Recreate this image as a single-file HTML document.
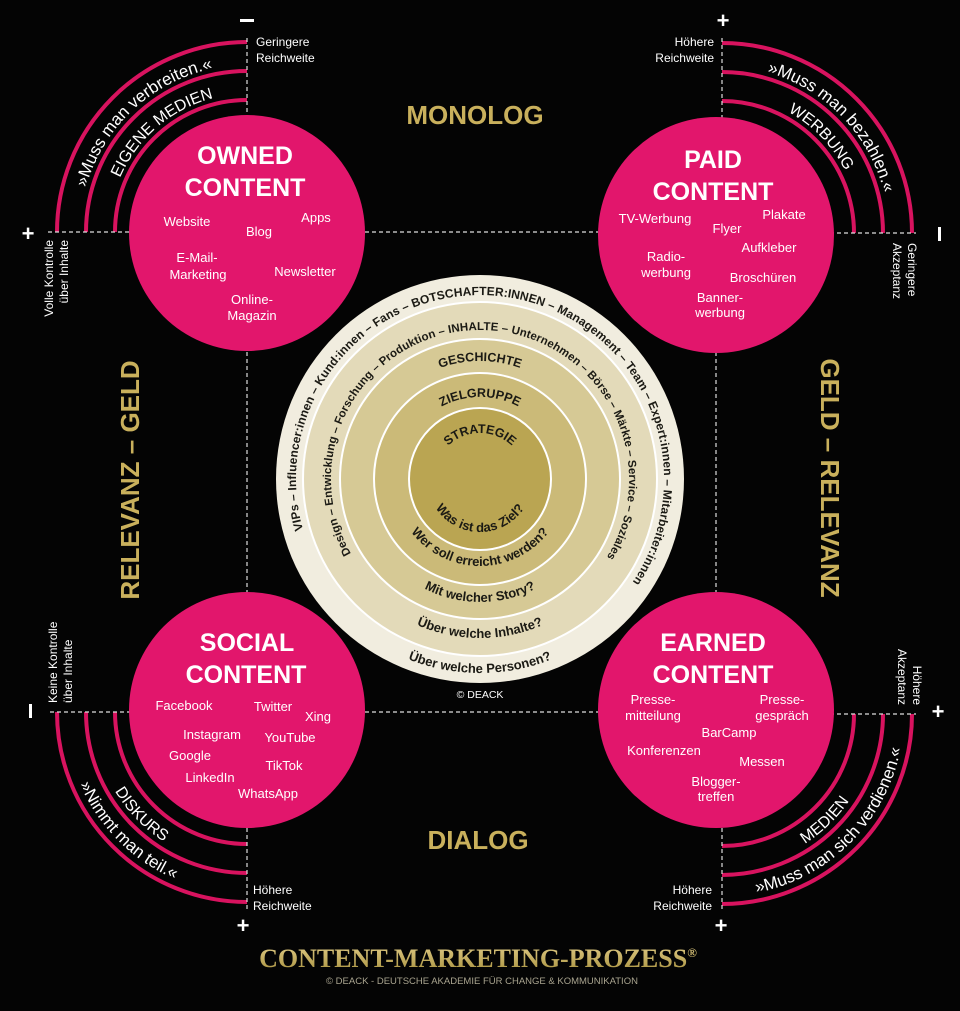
<!DOCTYPE html>
<html><head><meta charset="utf-8"><style>
html,body{margin:0;padding:0;background:#040404;}
svg{display:block;font-family:"Liberation Sans",sans-serif;}
.w{fill:#fff;font-size:13px;text-anchor:middle;}
.h{fill:#fff;font-size:25px;font-weight:bold;text-anchor:middle;}
.lb{fill:#fff;font-size:12px;}
.ct{fill:#1b1a14;font-weight:bold;}
.arc{fill:none;stroke:#d8135f;stroke-width:4;}
.ds{stroke:#ddd;stroke-width:1.2;stroke-dasharray:4 3;fill:none;}
.gold{fill:#c9b05c;font-weight:bold;font-size:26px;text-anchor:middle;}
.ctext{fill:#fff;font-size:17px;}
</style></head><body>
<svg width="960" height="1011" viewBox="0 0 960 1011" xmlns="http://www.w3.org/2000/svg">
<defs>
<path id="p1" d="M303.1,529.7 A184,184 0 1 1 628.9,587.2"/>
<path id="p2" d="M351,553.5 A149,149 0 1 1 602.8,563.4"/>
<path id="t1" d="M434,479 A46,46 0 0 1 526,479"/>
<path id="t2" d="M398,479 A82,82 0 0 1 562,479"/>
<path id="t3" d="M362,479 A118,118 0 0 1 598,479"/>
<path id="b1" d="M427,479 A53,53 0 0 0 533,479"/>
<path id="b2" d="M393,479 A87,87 0 0 0 567,479"/>
<path id="b3" d="M357,479 A123,123 0 0 0 603,479"/>
<path id="b4" d="M321,479 A159,159 0 0 0 639,479"/>
<path id="b5" d="M286,479 A194,194 0 0 0 674,479"/>
<path id="o1" d="M80,232 A167,167 0 0 1 247,65"/>
<path id="o2" d="M109,232 A138,138 0 0 1 247,94"/>
<path id="q1" d="M722,66 A167,167 0 0 1 889,233"/>
<path id="q2" d="M722,95 A138,138 0 0 1 860,233"/>
<path id="s1" d="M65,712 A182,182 0 0 0 247,894"/>
<path id="s2" d="M93,712 A154,154 0 0 0 247,866"/>
<path id="e1" d="M722,896 A182,182 0 0 0 904,714"/>
<path id="e2" d="M722,868 A154,154 0 0 0 876,714"/>
<linearGradient id="gg" x1="0" y1="0" x2="0" y2="1"><stop offset="0" stop-color="#e0cc86"/><stop offset="1" stop-color="#a8903e"/></linearGradient>
</defs>

<path class="ds" d="M365,232 H598 M365,712 H598 M247,352 V592 M716,352 V592"/>

<path class="arc" d="M57,232 A190,190 0 0 1 247,42 M86,232 A161,161 0 0 1 247,71 M115,232 A132,132 0 0 1 247,100"/>
<path class="arc" d="M722,43 A190,190 0 0 1 912,233 M722,72 A161,161 0 0 1 883,233 M722,101 A132,132 0 0 1 854,233"/>
<path class="arc" d="M57,712 A190,190 0 0 0 247,902 M86,712 A161,161 0 0 0 247,873 M115,712 A132,132 0 0 0 247,844"/>
<path class="arc" d="M722,904 A190,190 0 0 0 912,714 M722,875 A161,161 0 0 0 883,714 M722,846 A132,132 0 0 0 854,714"/>
<path class="ds" d="M48,232 H132 M247,38 V118 M722,38 V118 M830,233 H916 M50,712 H132 M247,828 V912 M722,828 V912 M830,714 H916"/>

<text class="ctext"><textPath href="#o1" startOffset="52%" text-anchor="middle">»Muss man verbreiten.«</textPath></text>
<text class="ctext" style="font-size:16px"><textPath href="#o2" startOffset="55%" text-anchor="middle">EIGENE MEDIEN</textPath></text>
<text class="ctext"><textPath href="#q1" startOffset="51%" text-anchor="middle">»Muss man bezahlen.«</textPath></text>
<text class="ctext" style="font-size:16px"><textPath href="#q2" startOffset="51%" text-anchor="middle">WERBUNG</textPath></text>
<text class="ctext"><textPath href="#s1" startOffset="50%" text-anchor="middle">»Nimmt man teil.«</textPath></text>
<text class="ctext" style="font-size:16px"><textPath href="#s2" startOffset="49%" text-anchor="middle">DISKURS</textPath></text>
<text class="ctext"><textPath href="#e1" startOffset="50%" text-anchor="middle">»Muss man sich verdienen.«</textPath></text>
<text class="ctext" style="font-size:16px"><textPath href="#e2" startOffset="49%" text-anchor="middle">MEDIEN</textPath></text>

<g fill="#fff" font-weight="bold" font-size="22" text-anchor="middle">
<rect x="240" y="19" width="14" height="3"/>
<text x="723" y="28">+</text>
<text x="28" y="241">+</text>
<rect x="938" y="227" width="3" height="14"/>
<rect x="29" y="704" width="3" height="14"/>
<text x="938" y="719">+</text>
<text x="243" y="933">+</text>
<text x="721" y="933">+</text>
</g>

<text class="lb" x="256" y="46">Geringere</text>
<text class="lb" x="256" y="62">Reichweite</text>
<text class="lb" x="714" y="46" text-anchor="end">Höhere</text>
<text class="lb" x="714" y="62" text-anchor="end">Reichweite</text>
<text class="lb" x="253" y="894">Höhere</text>
<text class="lb" x="253" y="910">Reichweite</text>
<text class="lb" x="712" y="894" text-anchor="end">Höhere</text>
<text class="lb" x="712" y="910" text-anchor="end">Reichweite</text>
<g transform="translate(53,240) rotate(-90)"><text class="lb" text-anchor="end">Volle Kontrolle</text><text class="lb" y="15" text-anchor="end">über Inhalte</text></g>
<g transform="translate(57,703) rotate(-90)"><text class="lb">Keine Kontrolle</text><text class="lb" y="15">über Inhalte</text></g>
<g transform="translate(908,243) rotate(90)"><text class="lb">Geringere</text><text class="lb" y="15">Akzeptanz</text></g>
<g transform="translate(913,705) rotate(90)"><text class="lb" text-anchor="end">Höhere</text><text class="lb" y="15" text-anchor="end">Akzeptanz</text></g>

<text class="gold" x="475" y="124">MONOLOG</text>
<text class="gold" x="478" y="849">DIALOG</text>
<text class="gold" transform="translate(139,480) rotate(-90)">RELEVANZ – GELD</text>
<text class="gold" transform="translate(821,478) rotate(90)">GELD – RELEVANZ</text>

<g fill="#e2166c">
<circle cx="247" cy="233" r="118"/>
<circle cx="716" cy="235" r="118"/>
<circle cx="247" cy="710" r="118"/>
<circle cx="716" cy="710" r="118"/>
</g>

<circle cx="480" cy="479" r="204" fill="#f1eddf"/>
<circle cx="480" cy="479" r="177" fill="#e3dab9" stroke="#fff" stroke-width="2"/>
<circle cx="480" cy="479" r="140" fill="#d6c995" stroke="#fff" stroke-width="2"/>
<circle cx="480" cy="479" r="106" fill="#cbba78" stroke="#fff" stroke-width="2"/>
<circle cx="480" cy="479" r="71" fill="#baa552" stroke="#fff" stroke-width="2"/>

<text class="ct" font-size="12"><textPath href="#p1" textLength="738" lengthAdjust="spacing">VIPs – Influencer:innen – Kund:innen – Fans – BOTSCHAFTER:INNEN – Management – Team – Expert:innen – Mitarbeiter:innen</textPath></text>
<text class="ct" font-size="11.5"><textPath href="#p2" textLength="628" lengthAdjust="spacing">Design – Entwicklung – Forschung – Produktion – INHALTE – Unternehmen – Börse – Märkte – Service – Soziales</textPath></text>
<text class="ct" font-size="12.5"><textPath href="#t1" startOffset="50%" text-anchor="middle">STRATEGIE</textPath></text>
<text class="ct" font-size="12.5"><textPath href="#t2" startOffset="50%" text-anchor="middle">ZIELGRUPPE</textPath></text>
<text class="ct" font-size="12.5"><textPath href="#t3" startOffset="50%" text-anchor="middle">GESCHICHTE</textPath></text>
<text class="ct" font-size="13"><textPath href="#b1" startOffset="50%" text-anchor="middle">Was ist das Ziel?</textPath></text>
<text class="ct" font-size="13"><textPath href="#b2" startOffset="50%" text-anchor="middle">Wer soll erreicht werden?</textPath></text>
<text class="ct" font-size="13"><textPath href="#b3" startOffset="50%" text-anchor="middle">Mit welcher Story?</textPath></text>
<text class="ct" font-size="13"><textPath href="#b4" startOffset="50%" text-anchor="middle">Über welche Inhalte?</textPath></text>
<text class="ct" font-size="13"><textPath href="#b5" startOffset="50%" text-anchor="middle">Über welche Personen?</textPath></text>
<text x="480" y="698" fill="#fff" font-size="10.5" text-anchor="middle">© DEACK</text>

<text class="h" x="245" y="164">OWNED</text>
<text class="h" x="245" y="196">CONTENT</text>
<text class="w" x="187" y="226">Website</text>
<text class="w" x="259" y="236">Blog</text>
<text class="w" x="316" y="222">Apps</text>
<text class="w" x="197" y="262">E-Mail-</text>
<text class="w" x="198" y="279">Marketing</text>
<text class="w" x="305" y="276">Newsletter</text>
<text class="w" x="252" y="304">Online-</text>
<text class="w" x="252" y="320">Magazin</text>

<text class="h" x="713" y="168">PAID</text>
<text class="h" x="713" y="200">CONTENT</text>
<text class="w" x="655" y="223">TV-Werbung</text>
<text class="w" x="727" y="233">Flyer</text>
<text class="w" x="784" y="219">Plakate</text>
<text class="w" x="666" y="261">Radio-</text>
<text class="w" x="666" y="277">werbung</text>
<text class="w" x="769" y="252">Aufkleber</text>
<text class="w" x="763" y="282">Broschüren</text>
<text class="w" x="720" y="302">Banner-</text>
<text class="w" x="720" y="317">werbung</text>

<text class="h" x="247" y="651">SOCIAL</text>
<text class="h" x="246" y="683">CONTENT</text>
<text class="w" x="184" y="710">Facebook</text>
<text class="w" x="273" y="711">Twitter</text>
<text class="w" x="318" y="721">Xing</text>
<text class="w" x="212" y="739">Instagram</text>
<text class="w" x="290" y="742">YouTube</text>
<text class="w" x="190" y="760">Google</text>
<text class="w" x="284" y="770">TikTok</text>
<text class="w" x="210" y="782">LinkedIn</text>
<text class="w" x="268" y="798">WhatsApp</text>

<text class="h" x="713" y="651">EARNED</text>
<text class="h" x="713" y="683">CONTENT</text>
<text class="w" x="653" y="704">Presse-</text>
<text class="w" x="653" y="720">mitteilung</text>
<text class="w" x="782" y="704">Presse-</text>
<text class="w" x="782" y="720">gespräch</text>
<text class="w" x="729" y="737">BarCamp</text>
<text class="w" x="664" y="755">Konferenzen</text>
<text class="w" x="762" y="766">Messen</text>
<text class="w" x="716" y="786">Blogger-</text>
<text class="w" x="716" y="801">treffen</text>

<text x="478" y="967" fill="url(#gg)" font-family="Liberation Serif, serif" font-weight="bold" font-size="26" text-anchor="middle">CONTENT-MARKETING-PROZESS<tspan font-size="13" dy="-10">®</tspan></text>
<text x="482" y="984" fill="#a9a48f" font-size="9.5" text-anchor="middle">© DEACK - DEUTSCHE AKADEMIE FÜR CHANGE &amp; KOMMUNIKATION</text>
</svg>
</body></html>
